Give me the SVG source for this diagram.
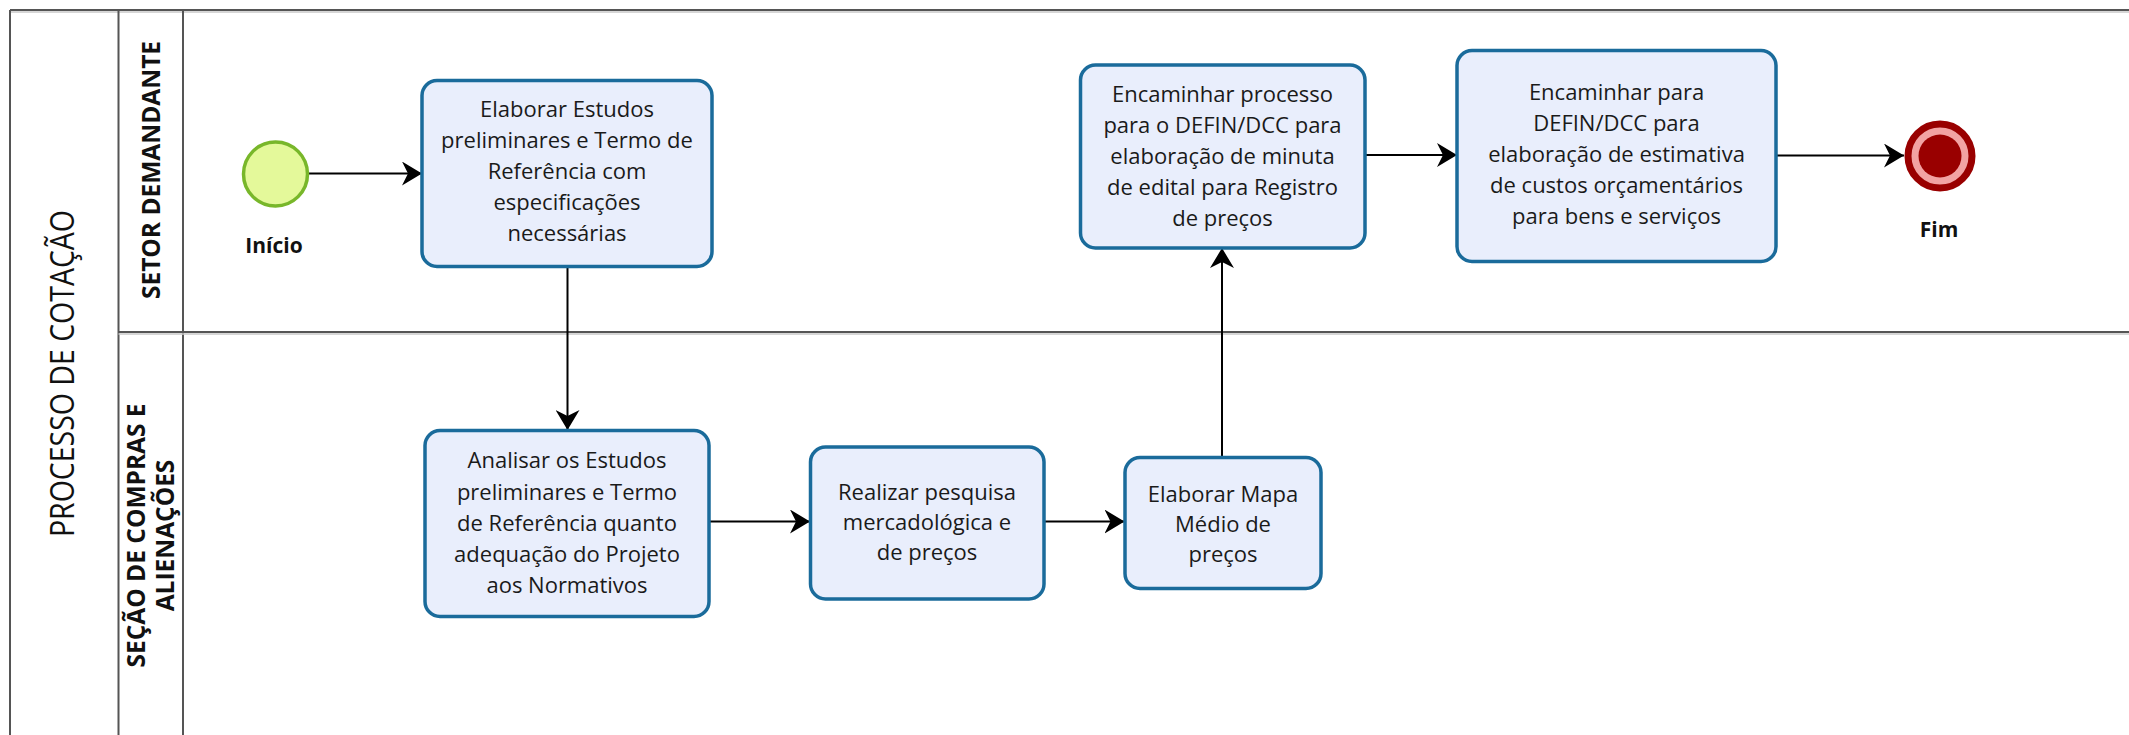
<svg xmlns="http://www.w3.org/2000/svg" width="2129" height="735" viewBox="0 0 2129 735">
  <style>
    .pool { stroke: #555; stroke-width: 2; fill: none; }
    .shade { stroke: #c8c8c8; stroke-width: 1.5; fill: none; }
    .task { fill: #e9eefc; stroke: #1a6b9b; stroke-width: 3.5; }
    .ttxt { font-family: "Open Sans", "Liberation Sans", sans-serif; font-size: 22px; fill: #1a1a1a; text-anchor: middle; }
    .lbl { font-family: "Open Sans", "Liberation Sans", sans-serif; font-size: 21px; font-weight: bold; fill: #111; text-anchor: middle; }
    .lane { font-family: "Open Sans", "Liberation Sans", sans-serif; font-size: 24.5px; font-weight: bold; fill: #111; text-anchor: middle; }
    .title { font-family: "Open Sans", "Liberation Sans", sans-serif; font-size: 32px; font-weight: 500; fill: #111; text-anchor: middle; }
    .flow { stroke: #000; stroke-width: 2; fill: none; marker-end: url(#arrow); }
  </style>
  <defs>
    <marker id="arrow" viewBox="0 0 20 24" refX="20" refY="12" markerWidth="20" markerHeight="24" markerUnits="userSpaceOnUse" orient="auto">
      <path d="M0,0 L20,12 L0,24 L6,12 Z" fill="#000"/>
    </marker>
  </defs>
  <rect width="2129" height="735" fill="#ffffff"/>

  <g id="pool">
    <line class="shade" x1="10" y1="12" x2="2129" y2="12"/>
    <line class="pool" x1="10" y1="10" x2="2129" y2="10"/>
    <line class="pool" x1="10" y1="10" x2="10" y2="735"/>
    <line class="pool" x1="118.5" y1="10" x2="118.5" y2="735"/>
    <line class="pool" x1="183" y1="10" x2="183" y2="735"/>
    <line class="shade" x1="118.5" y1="334" x2="2129" y2="334"/>
    <line class="pool" x1="118.5" y1="332" x2="2129" y2="332"/>
    <text class="title" transform="translate(73.5,373.5) rotate(-90)" x="0" y="0" textLength="327" lengthAdjust="spacingAndGlyphs">PROCESSO DE COTAÇÃO</text>
  </g>

  <g id="lane-setor">
    <text class="lane" transform="translate(160,170) rotate(-90)" x="0" y="0">SETOR DEMANDANTE</text>
  </g>
  <g id="lane-secao">
    <text class="lane" transform="translate(145,535.5) rotate(-90)" x="0" y="0">SEÇÃO DE COMPRAS E</text>
    <text class="lane" transform="translate(174,535.5) rotate(-90)" x="0" y="0">ALIENAÇÕES</text>
  </g>

  <g id="connectors">
    <line class="flow" x1="309" y1="173.5" x2="422" y2="173.5"/>
    <line class="flow" x1="567.5" y1="267" x2="567.5" y2="430"/>
    <line class="flow" x1="709" y1="521.5" x2="810" y2="521.5"/>
    <line class="flow" x1="1044" y1="521.5" x2="1124.5" y2="521.5"/>
    <line class="flow" x1="1222" y1="457" x2="1222" y2="248"/>
    <line class="flow" x1="1365" y1="155" x2="1457" y2="155"/>
    <line class="flow" x1="1776" y1="155.5" x2="1904" y2="155.5"/>
  </g>

  <g id="start">
    <circle cx="275.5" cy="174" r="32" fill="#e4f99a" stroke="#78b72a" stroke-width="3.5"/>
    <text class="lbl" x="274" y="253">Início</text>
  </g>

  <g id="task1">
    <rect class="task" x="422" y="80.5" width="290" height="186" rx="15"/>
    <text class="ttxt" x="567" y="117.3">Elaborar Estudos</text>
    <text class="ttxt" x="567" y="148.2">preliminares e Termo de</text>
    <text class="ttxt" x="567" y="179">Referência com</text>
    <text class="ttxt" x="567" y="209.9">especificações</text>
    <text class="ttxt" x="567" y="240.7">necessárias</text>
  </g>

  <g id="task2">
    <rect class="task" x="425" y="430.5" width="284" height="186" rx="15"/>
    <text class="ttxt" x="567" y="468.3">Analisar os Estudos</text>
    <text class="ttxt" x="567" y="499.5">preliminares e Termo</text>
    <text class="ttxt" x="567" y="530.8">de Referência quanto</text>
    <text class="ttxt" x="567" y="562">adequação do Projeto</text>
    <text class="ttxt" x="567" y="593.3">aos Normativos</text>
  </g>

  <g id="task3">
    <rect class="task" x="810.5" y="447" width="233.5" height="152" rx="15"/>
    <text class="ttxt" x="927" y="500">Realizar pesquisa</text>
    <text class="ttxt" x="927" y="530">mercadológica e</text>
    <text class="ttxt" x="927" y="560">de preços</text>
  </g>

  <g id="task4">
    <rect class="task" x="1125" y="457.5" width="196" height="131" rx="15"/>
    <text class="ttxt" x="1223" y="501.7">Elaborar Mapa</text>
    <text class="ttxt" x="1223" y="531.7">Médio de</text>
    <text class="ttxt" x="1223" y="561.7">preços</text>
  </g>

  <g id="task5">
    <rect class="task" x="1080.5" y="65" width="284.5" height="183" rx="15"/>
    <text class="ttxt" x="1222.5" y="101.5">Encaminhar processo</text>
    <text class="ttxt" x="1222.5" y="132.5">para o DEFIN/DCC para</text>
    <text class="ttxt" x="1222.5" y="163.5">elaboração de minuta</text>
    <text class="ttxt" x="1222.5" y="194.5">de edital para  Registro</text>
    <text class="ttxt" x="1222.5" y="225.5">de preços</text>
  </g>

  <g id="task6">
    <rect class="task" x="1457" y="50.5" width="319" height="211" rx="15"/>
    <text class="ttxt" x="1616.5" y="100">Encaminhar para</text>
    <text class="ttxt" x="1616.5" y="131">DEFIN/DCC para</text>
    <text class="ttxt" x="1616.5" y="162">elaboração de estimativa</text>
    <text class="ttxt" x="1616.5" y="193">de custos orçamentários</text>
    <text class="ttxt" x="1616.5" y="224">para bens e serviços</text>
  </g>

  <g id="end">
    <circle cx="1940" cy="156" r="32" fill="#f2a3a3" stroke="#990000" stroke-width="7"/>
    <circle cx="1940" cy="156" r="21.5" fill="#990000"/>
    <text class="lbl" x="1939" y="236.7">Fim</text>
  </g>
</svg>
